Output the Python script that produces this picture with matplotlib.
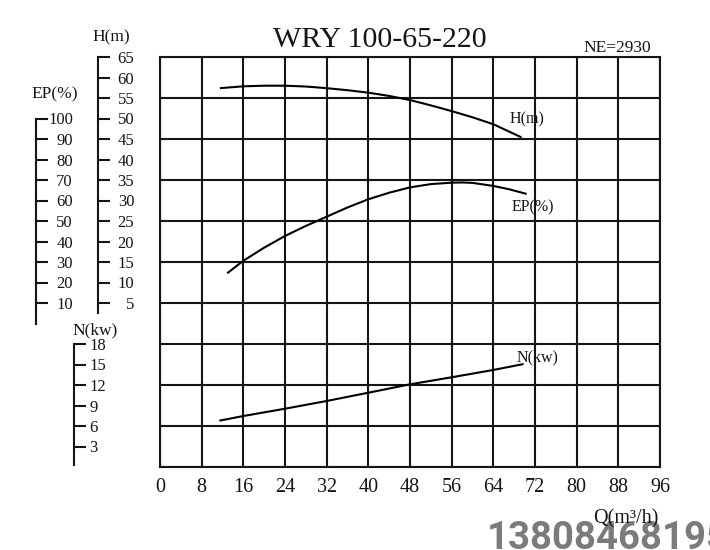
import matplotlib
matplotlib.use("Agg")
import matplotlib.pyplot as plt
import numpy as np

plt.rcParams["font.family"] = ["Liberation Serif", "DejaVu Serif"]

# values
q_ticks = list(range(0, 97, 8))
h_ticks = list(range(5, 66, 5))
ep_ticks = list(range(10, 101, 10))
n_ticks = list(range(3, 19, 3))

q_h = [11.5, 16, 20, 24, 28, 32, 36, 40, 44, 48, 52, 56, 60, 64, 69.4]
head = [57.4, 57.85, 58.0, 58.0, 57.8, 57.4, 56.9, 56.3, 55.5, 54.5, 53.2, 51.8, 50.3, 48.6, 45.4]

q_ep = [12.9, 16, 20, 24, 28, 32, 36, 40, 44, 48, 52, 56, 58, 60, 64, 67, 70.4]
eff = [24.5, 30.6, 37.0, 42.7, 47.6, 52.1, 56.6, 60.6, 63.8, 66.4, 68.0, 68.7, 68.8, 68.6, 67.1, 65.5, 63.2]

q_n = [11.4, 16, 24, 32, 40, 48, 56, 64, 69.8]
power = [6.78, 7.46, 8.53, 9.66, 10.87, 12.1, 13.13, 14.2, 15.07]

W, H = 710, 550
INK = "#151515"
LW = 1.5


def fx(px):
    return px / W


def fy(py):
    return 1 - py / H


fig = plt.figure(figsize=(7.1, 5.5), dpi=100)
ax = fig.add_axes([fx(160), fy(467), fx(660) - fx(160), fy(57) - fy(467)])
ax.set_xlim(0, 96)
ax.set_ylim(-35, 65)
ax.set_xticks(q_ticks)
ax.set_yticks(np.arange(-35, 66, 10))
ax.grid(True, color=INK, lw=LW)
ax.tick_params(axis="y", length=0, labelleft=False)
ax.tick_params(axis="x", length=0, labelsize=14.5, pad=8, colors=INK)
for s in ax.spines.values():
    s.set_color(INK)
    s.set_linewidth(LW)


def scale_axis(ylim, spine_px, bounds, ticks, ha, pad):
    a = ax.twinx()
    a.set_ylim(*ylim)
    for k in ("top", "bottom", "left"):
        a.spines[k].set_visible(False)
    sp = a.spines["right"]
    sp.set_position(("axes", (spine_px - 160) / 500))
    sp.set_bounds(*bounds)
    sp.set_color(INK)
    sp.set_linewidth(LW)
    a.set_yticks(ticks)
    a.set_yticklabels([str(t) for t in ticks], ha=ha)
    a.tick_params(axis="y", direction="out", length=8.6, width=LW,
                  color=INK, labelsize=12, pad=pad, labelcolor=INK)
    return a


ax_h = scale_axis((-35, 65), 98, (2.5, 65), h_ticks, "right", 17.5)
ax_ep = scale_axis((-70, 130), 36, (0, 100), ep_ticks, "right", 18)
ax_n = scale_axis((0, 60), 74, (0.3, 18), n_ticks, "left", 2.5)

ax_h.plot(q_h, head, color="black", lw=LW, solid_capstyle="butt")
ax_ep.plot(q_ep, eff, color="black", lw=LW, solid_capstyle="butt")
ax_n.plot(q_n, power, color="black", lw=LW, solid_capstyle="butt")

# curve labels
ax.text(fx(510), fy(119), "H(m)", transform=fig.transFigure, fontsize=11.5, va="center", color=INK)
ax.text(fx(512), fy(207), "EP(%)", transform=fig.transFigure, fontsize=11.5, va="center", color=INK)
ax.text(fx(517), fy(357), "N(kw)", transform=fig.transFigure, fontsize=11.5, va="center", color=INK)

# axis names
fig.text(fx(111), fy(37), "H(m)", fontsize=12.5, ha="center", va="center", color=INK)
fig.text(fx(55), fy(94), "EP(%)", fontsize=12.5, ha="center", va="center", color=INK)
fig.text(fx(95), fy(330), "N(kw)", fontsize=12.5, ha="center", va="center", color=INK)

fig.text(fx(380), fy(47), "WRY 100-65-220", fontsize=21.5, ha="center", va="baseline", color=INK)
fig.text(fx(651), fy(52), "NE=2930", fontsize=12.5, ha="right", va="baseline", color=INK)

fig.text(fx(487), fy(549), "13808468195", fontsize=27.5, fontweight="bold",
         family=["Roboto", "DejaVu Sans"], color="#7b7b7b", va="baseline", zorder=1)
fig.text(fx(626), fy(519), "Q(m\u00b3/h)", fontsize=14.5, ha="center", va="center",
         color=INK, zorder=5)

fig.savefig("out.png", dpi=100)
